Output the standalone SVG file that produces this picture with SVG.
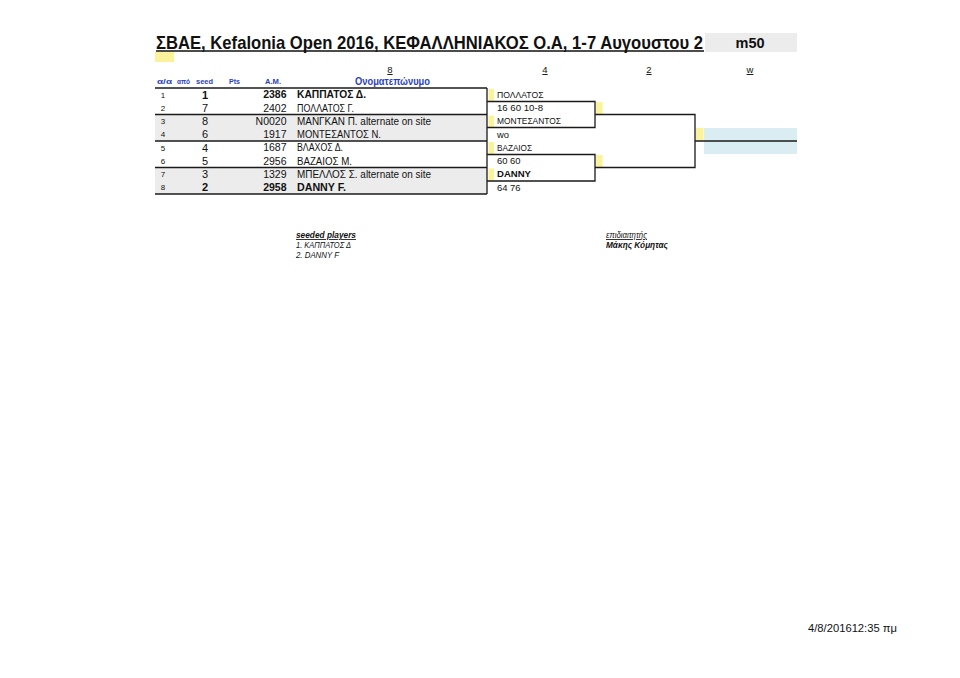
<svg xmlns="http://www.w3.org/2000/svg" width="960" height="678" viewBox="0 0 960 678">
<style>
.t{font-family:"Liberation Sans",Arial,sans-serif;fill:#111}
.hd{font-family:"Liberation Sans",Arial,sans-serif;font-weight:bold;fill:#2a3fc0}
.num{font-family:"Liberation Sans",Arial,sans-serif;font-size:8px;fill:#111;text-anchor:middle}
.sd{font-family:"Liberation Sans",Arial,sans-serif;font-size:11px;fill:#111;text-anchor:middle}
.am{font-family:"Liberation Sans",Arial,sans-serif;font-size:10.5px;fill:#111;text-anchor:end}
.nm{font-family:"Liberation Sans",Arial,sans-serif;font-size:10.5px;fill:#111}
.bn{font-family:"Liberation Sans",Arial,sans-serif;font-size:9px;fill:#111}
.b{font-weight:bold}
.ln{stroke:#1a1a1a;stroke-width:1.3;fill:none}
.tl{stroke:#1a1a1a;stroke-width:1.6;fill:none}
.yel{fill:#fbf39c}
.grey{fill:#ececec}
</style>
<rect width="960" height="678" fill="#ffffff"/>

<g id="title">
<text class="t b" transform="translate(156,48.5) scale(1,1.14)" x="0" y="0" font-size="16.2" textLength="547" lengthAdjust="spacingAndGlyphs">ΣΒΑΕ, Kefalonia Open 2016, ΚΕΦΑΛΛΗΝΙΑΚΟΣ Ο.Α, 1-7 Αυγουστου 2</text>
<line x1="156" y1="51" x2="704" y2="51" stroke="#111" stroke-width="1.6"/>
<rect x="705" y="33" width="92" height="19" class="grey"/>
<text class="t b" x="750" y="48" font-size="14.5" text-anchor="middle">m50</text>
<rect x="155" y="52" width="19" height="10" class="yel"/>
</g>

<g id="round-headers">
<text class="t" x="390" y="73" font-size="9.5" text-anchor="middle" text-decoration="underline" fill="#333">8</text>
<text class="t" x="545" y="73" font-size="9.5" text-anchor="middle" text-decoration="underline" fill="#333">4</text>
<text class="t" x="649" y="73" font-size="9.5" text-anchor="middle" text-decoration="underline" fill="#333">2</text>
<text class="t" x="750" y="73" font-size="9.5" text-anchor="middle" text-decoration="underline" fill="#333">w</text>
</g>

<g id="table-header">
<text class="hd" x="157" y="84" font-size="7.5" textLength="15" lengthAdjust="spacingAndGlyphs">α/α</text>
<text class="hd" x="177" y="84" font-size="7.5" textLength="13" lengthAdjust="spacingAndGlyphs">από</text>
<text class="hd" x="196" y="84" font-size="7.5" textLength="17" lengthAdjust="spacingAndGlyphs">seed</text>
<text class="hd" x="229" y="84" font-size="7.5" textLength="11" lengthAdjust="spacingAndGlyphs">Pts</text>
<text class="hd" x="265" y="84" font-size="7.5" textLength="16" lengthAdjust="spacingAndGlyphs">A.M.</text>
<text class="hd" x="355" y="85" font-size="10.5" textLength="75" lengthAdjust="spacingAndGlyphs">Ονοματεπώνυμο</text>
</g>

<g id="table-bands">
<rect x="155" y="114.5" width="332" height="26.5" class="grey"/>
<rect x="155" y="167.5" width="332" height="26.5" class="grey"/>
</g>

<g id="row-1">
<text class="num" x="163" y="97.6">1</text>
<text class="sd b" x="205" y="98.6">1</text>
<text class="am b" x="286.5" y="98.3">2386</text>
<text class="nm b" x="297" y="98.3" textLength="69" lengthAdjust="spacingAndGlyphs">ΚΑΠΠΑΤΟΣ Δ.</text>
</g>
<g id="row-2">
<text class="num" x="163" y="110.9">2</text>
<text class="sd" x="205" y="111.9">7</text>
<text class="am" x="286.5" y="111.6">2402</text>
<text class="nm" x="297" y="111.6" textLength="57" lengthAdjust="spacingAndGlyphs">ΠΟΛΛΑΤΟΣ Γ.</text>
</g>
<g id="row-3">
<text class="num" x="163" y="124.1">3</text>
<text class="sd" x="205" y="125.1">8</text>
<text class="am" x="286.5" y="124.9">N0020</text>
<text class="nm" x="297" y="124.9" textLength="134" lengthAdjust="spacingAndGlyphs">ΜΑΝΓΚΑΝ Π. alternate on site</text>
</g>
<g id="row-4">
<text class="num" x="163" y="137.4">4</text>
<text class="sd" x="205" y="138.4">6</text>
<text class="am" x="286.5" y="138.1">1917</text>
<text class="nm" x="297" y="138.1" textLength="84" lengthAdjust="spacingAndGlyphs">ΜΟΝΤΕΣΑΝΤΟΣ Ν.</text>
</g>
<g id="row-5">
<text class="num" x="163" y="150.6">5</text>
<text class="sd" x="205" y="151.6">4</text>
<text class="am" x="286.5" y="151.4">1687</text>
<text class="nm" x="297" y="151.4" textLength="46" lengthAdjust="spacingAndGlyphs">ΒΛΑΧΟΣ Δ.</text>
</g>
<g id="row-6">
<text class="num" x="163" y="163.9">6</text>
<text class="sd" x="205" y="164.9">5</text>
<text class="am" x="286.5" y="164.6">2956</text>
<text class="nm" x="297" y="164.6" textLength="55" lengthAdjust="spacingAndGlyphs">ΒΑΖΑΙΟΣ Μ.</text>
</g>
<g id="row-7">
<text class="num" x="163" y="177.1">7</text>
<text class="sd" x="205" y="178.1">3</text>
<text class="am" x="286.5" y="177.9">1329</text>
<text class="nm" x="297" y="177.9" textLength="134" lengthAdjust="spacingAndGlyphs">ΜΠΕΛΛΟΣ Σ. alternate on site</text>
</g>
<g id="row-8">
<text class="num" x="163" y="190.4">8</text>
<text class="sd b" x="205" y="191.4">2</text>
<text class="am b" x="286.5" y="191.1">2958</text>
<text class="nm b" x="297" y="191.1" textLength="49" lengthAdjust="spacingAndGlyphs">DANNY F.</text>
</g>

<g id="bracket-fills">
<rect x="488.5" y="89" width="5.5" height="12" class="yel"/>
<rect x="488.5" y="115.5" width="5.5" height="12" class="yel"/>
<rect x="488.5" y="142" width="5.5" height="12" class="yel"/>
<rect x="488.5" y="168.5" width="5.5" height="12" class="yel"/>
<rect x="596" y="102" width="6.5" height="12" class="yel"/>
<rect x="596" y="155" width="6.5" height="12" class="yel"/>
<rect x="704" y="128" width="93" height="26" fill="#daedf3"/>
<rect x="696" y="128" width="7.5" height="12.5" class="yel"/>
</g>

<g id="match-1">
<text class="bn" x="497" y="97.9" textLength="46.5" lengthAdjust="spacingAndGlyphs">ΠΟΛΛΑΤΟΣ</text>
<text class="bn" x="497" y="111.2" textLength="46" lengthAdjust="spacingAndGlyphs">16 60 10-8</text>
</g>
<g id="match-2">
<text class="bn" x="497" y="124.4" textLength="64" lengthAdjust="spacingAndGlyphs">ΜΟΝΤΕΣΑΝΤΟΣ</text>
<text class="bn" x="497" y="137.7" textLength="12" lengthAdjust="spacingAndGlyphs">wo</text>
</g>
<g id="match-3">
<text class="bn" x="497" y="150.9" textLength="35" lengthAdjust="spacingAndGlyphs">ΒΑΖΑΙΟΣ</text>
<text class="bn" x="497" y="164.2" textLength="23.5" lengthAdjust="spacingAndGlyphs">60 60</text>
</g>
<g id="match-4">
<text class="bn b" x="497" y="177.4" textLength="34" lengthAdjust="spacingAndGlyphs">DANNY</text>
<text class="bn" x="497" y="190.7" textLength="23.5" lengthAdjust="spacingAndGlyphs">64 76</text>
</g>

<g id="connectors">
<line class="tl" x1="155" y1="88" x2="487" y2="88"/>
<line class="tl" x1="155" y1="114.5" x2="487" y2="114.5"/>
<line class="tl" x1="155" y1="141" x2="487" y2="141"/>
<line class="tl" x1="155" y1="167.5" x2="487" y2="167.5"/>
<line class="tl" x1="155" y1="194" x2="487" y2="194"/>
<line class="ln" x1="487" y1="88" x2="487" y2="194"/>
<polyline class="ln" points="487,101.5 595,101.5 595,127.5 487,127.5"/>
<polyline class="ln" points="487,154.5 595,154.5 595,181 487,181"/>
<polyline class="ln" points="595,114.5 695,114.5 695,167.5 595,167.5"/>
<line class="ln" x1="695" y1="141" x2="797" y2="141"/>
</g>

<g id="notes">
<text class="t b" x="296" y="238" font-size="8.5" font-style="italic" text-decoration="underline" textLength="60" lengthAdjust="spacingAndGlyphs">seeded players</text>
<text class="t" x="296" y="248" font-size="8.5" font-style="italic" textLength="55" lengthAdjust="spacingAndGlyphs">1. ΚΑΠΠΑΤΟΣ Δ</text>
<text class="t" x="296" y="258" font-size="8.5" font-style="italic" textLength="43" lengthAdjust="spacingAndGlyphs">2. DANNY F</text>
<text class="t" x="606" y="238" font-size="8.5" font-style="italic" text-decoration="underline" textLength="41" lengthAdjust="spacingAndGlyphs">επιδιαιτητής</text>
<text class="t b" x="606" y="248" font-size="8.5" font-style="italic" textLength="62" lengthAdjust="spacingAndGlyphs">Μάκης Κόμητας</text>
</g>

<g id="timestamp">
<text class="t" x="808" y="632" font-size="11" textLength="89" lengthAdjust="spacingAndGlyphs">4/8/201612:35 πμ</text>
</g>
</svg>
